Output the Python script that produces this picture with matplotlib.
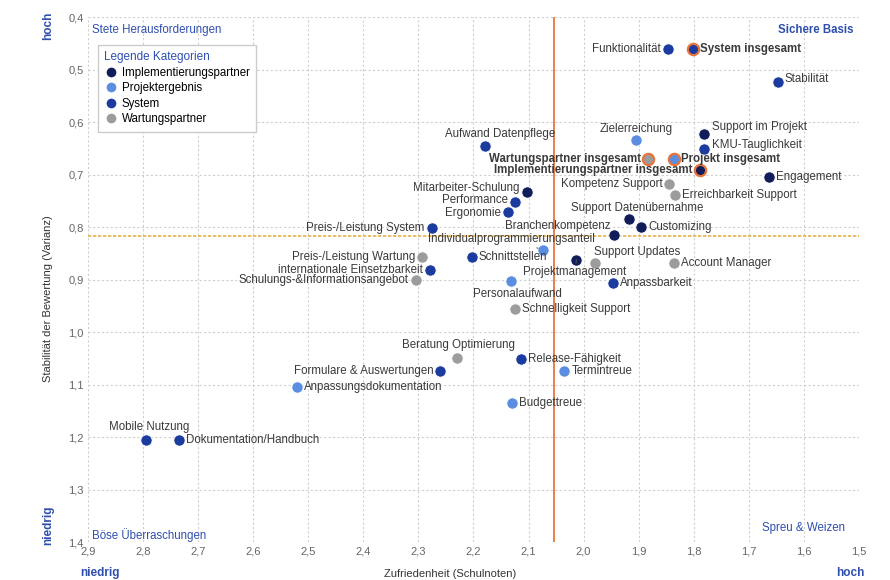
import matplotlib
matplotlib.use("Agg")
import matplotlib.pyplot as plt
from matplotlib.lines import Line2D
from matplotlib.ticker import FuncFormatter, MultipleLocator

plt.rcParams["font.family"] = ["Liberation Sans", "DejaVu Sans"]

# data
names = [
    "Funktionalität", "System insgesamt", "Stabilität", "Support im Projekt",
    "KMU-Tauglichkeit", "Projekt insgesamt", "Implementierungspartner insgesamt",
    "Wartungspartner insgesamt", "Zielerreichung", "Engagement",
    "Kompetenz Support", "Erreichbarkeit Support", "Aufwand Datenpflege",
    "Mitarbeiter-Schulung", "Performance", "Ergonomie", "Preis-/Leistung System",
    "Support Datenübernahme", "Customizing", "Branchenkompetenz",
    "Individualprogrammierungsanteil", "Schnittstellen", "Preis-/Leistung Wartung",
    "internationale Einsetzbarkeit", "Schulungs-&Informationsangebot",
    "Projektmanagement", "Support Updates", "Account Manager", "Anpassbarkeit",
    "Personalaufwand", "Schnelligkeit Support", "Beratung Optimierung",
    "Formulare & Auswertungen", "Release-Fähigkeit", "Termintreue",
    "Anpassungsdokumentation", "Budgettreue", "Mobile Nutzung",
    "Dokumentation/Handbuch",
]
zufriedenheit = [
    1.847, 1.802, 1.647, 1.781, 1.781, 1.836, 1.789, 1.883, 1.904, 1.664,
    1.844, 1.834, 2.179, 2.103, 2.125, 2.138, 2.276, 1.917, 1.895, 1.944,
    2.073, 2.203, 2.293, 2.279, 2.305, 2.013, 1.979, 1.835, 1.946, 2.131,
    2.125, 2.230, 2.260, 2.114, 2.035, 2.521, 2.130, 2.795, 2.735,
]
varianz = [
    0.461, 0.461, 0.524, 0.622, 0.651, 0.671, 0.692, 0.671, 0.634, 0.704,
    0.718, 0.739, 0.646, 0.733, 0.753, 0.771, 0.801, 0.785, 0.800, 0.816,
    0.844, 0.857, 0.857, 0.881, 0.901, 0.862, 0.868, 0.869, 0.906, 0.903,
    0.957, 1.049, 1.074, 1.051, 1.074, 1.105, 1.135, 1.205, 1.205,
]
kategorie = [
    "S", "S", "S", "I", "S", "P", "I", "W", "P", "I",
    "W", "W", "S", "I", "S", "S", "S", "I", "I", "I",
    "P", "S", "W", "S", "W", "I", "W", "W", "S", "P",
    "W", "W", "S", "S", "P", "P", "P", "S", "S",
]
gesamt = ["System insgesamt", "Projekt insgesamt",
          "Implementierungspartner insgesamt", "Wartungspartner insgesamt"]
mittel_x = 2.053
mittel_y = 0.817

kat_names = {"I": "Implementierungspartner", "P": "Projektergebnis",
             "S": "System", "W": "Wartungspartner"}
kat_colors = {"I": "#101d5a", "P": "#5b8de0", "S": "#1c3b9e", "W": "#9c9c9c"}

# label placement: (dx, dy in points, ha, va)
R = (5, 0, "left", "center")
L = (-5, 0, "right", "center")
place = {
    "Funktionalität": L, "Stabilität": (5, 2, "left", "center"),
    "Support im Projekt": (6, 5, "left", "center"),
    "KMU-Tauglichkeit": (6, 3, "left", "center"),
    "Implementierungspartner insgesamt": L, "Wartungspartner insgesamt": L,
    "Zielerreichung": (0, 8, "center", "center"),
    "Kompetenz Support": L,
    "Aufwand Datenpflege": (11, 9, "center", "center"),
    "Mitarbeiter-Schulung": (-5, 3, "right", "center"),
    "Performance": (-5, 1.5, "right", "center"),
    "Ergonomie": (-5, -1, "right", "center"),
    "Preis-/Leistung System": L,
    "Support Datenübernahme": (6, 8, "center", "center"),
    "Branchenkompetenz": (-3, 7, "right", "center"),
    "Individualprogrammierungsanteil": (-23, 8, "center", "center"),
    "Preis-/Leistung Wartung": L, "internationale Einsetzbarkeit": L,
    "Schulungs-&Informationsangebot": L,
    "Projektmanagement": (-1, -9, "center", "center"),
    "Support Updates": (-1, 8, "left", "center"),
    "Personalaufwand": (4, -9, "center", "center"),
    "Beratung Optimierung": (1, 9, "center", "center"),
    "Formulare & Auswertungen": L,
    "Mobile Nutzung": (2, 9, "center", "center"),
}
leader = ["Individualprogrammierungsanteil", "Projektmanagement"]

fig = plt.figure(figsize=(8.9, 5.8), dpi=100)
ax = fig.add_axes([0.099, 0.0655, 0.866, 0.905])

ax.set_xlim(2.9, 1.5)
ax.set_ylim(1.4, 0.4)
ax.xaxis.set_major_locator(MultipleLocator(0.1))
ax.yaxis.set_major_locator(MultipleLocator(0.1))
komma = FuncFormatter(lambda v, p: f"{v:.1f}".replace(".", ","))
ax.xaxis.set_major_formatter(komma)
ax.yaxis.set_major_formatter(komma)
ax.tick_params(length=0, labelsize=8, colors="#666666", pad=3)
ax.grid(True, color="#cfcfcf", linestyle=(0, (2, 2)), linewidth=0.8)
for s in ax.spines.values():
    s.set_visible(False)

ax.axvline(mittel_x, color="#e8743b", linewidth=1.3, zorder=2)
ax.axhline(mittel_y, color="#e6b04a", linewidth=1.2, linestyle=(0, (2, 1)), zorder=2)

for n, x, y, k in zip(names, zufriedenheit, varianz, kategorie):
    is_total = n in gesamt
    ax.scatter(x, y, s=66, color=kat_colors[k], zorder=4,
               edgecolors="#e8743b" if is_total else "white",
               linewidths=1.6 if is_total else 0.6)
    dx, dy, ha, va = place.get(n, R)
    kw = {}
    if n in leader:
        kw["arrowprops"] = dict(arrowstyle="-", color="#555555", lw=0.7,
                                shrinkA=0, shrinkB=4)
    ax.annotate(n, (x, y), xytext=(dx, dy), textcoords="offset points",
                ha=ha, va=va, fontsize=8.3, color="#3a3a3a",
                fontweight="bold" if is_total else "normal", zorder=5, **kw)

blau = "#2f4fb0"
ax.text(0.005, 0.976, "Stete Herausforderungen", transform=ax.transAxes,
        fontsize=8.3, color=blau, ha="left", va="center")
ax.text(0.993, 0.976, "Sichere Basis", transform=ax.transAxes,
        fontsize=8.3, color=blau, ha="right", va="center", fontweight="bold")
ax.text(0.005, 0.014, "Böse Überraschungen", transform=ax.transAxes,
        fontsize=8.3, color=blau, ha="left", va="center")
ax.text(0.982, 0.027, "Spreu & Weizen", transform=ax.transAxes,
        fontsize=8.3, color=blau, ha="right", va="center")

fig.text(0.506, 0.01, "Zufriedenheit (Schulnoten)", fontsize=8, color="#333333",
         ha="center", va="center")
fig.text(0.054, 0.485, "Stabilität der Bewertung (Varianz)", rotation=90,
         fontsize=8, color="#333333", ha="center", va="center")

fig.text(0.054, 0.955, "hoch", rotation=90, fontsize=8.5, color=blau,
         fontweight="bold", ha="center", va="center")
fig.text(0.054, 0.095, "niedrig", rotation=90, fontsize=8.5, color=blau,
         fontweight="bold", ha="center", va="center")
fig.text(0.112, 0.012, "niedrig", fontsize=8.5, color=blau, fontweight="bold",
         ha="center", va="center")
fig.text(0.955, 0.012, "hoch", fontsize=8.5, color=blau, fontweight="bold",
         ha="center", va="center")

handles = [Line2D([], [], marker="o", linestyle="", markersize=8,
                  markerfacecolor=kat_colors[k], markeredgecolor="white",
                  label=kat_names[k]) for k in ["I", "P", "S", "W"]]
leg = ax.legend(handles=handles, loc="upper left", bbox_to_anchor=(0.013, 0.9467),
                borderaxespad=0, title="Legende Kategorien", fontsize=8.3,
                title_fontsize=8.5, handletextpad=0.3, borderpad=0.55,
                labelspacing=0.3, handlelength=1.2, alignment="left",
                fancybox=False)
leg.get_title().set_color(blau)
frame = leg.get_frame()
frame.set_edgecolor("#cccccc")
frame.set_alpha(1)

fig.savefig("out.png", dpi=100, facecolor="white")
